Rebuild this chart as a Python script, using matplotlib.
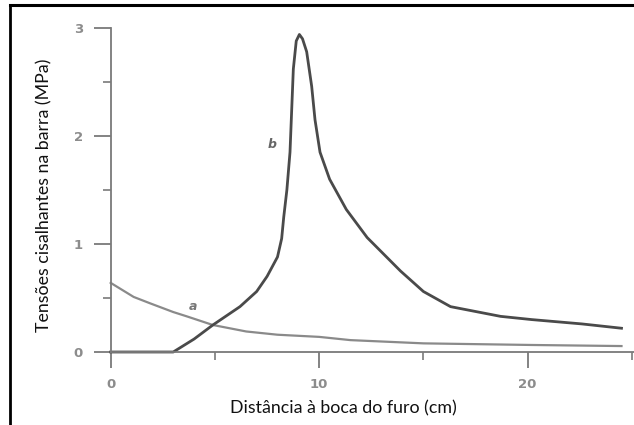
import matplotlib
matplotlib.use("Agg")
import matplotlib.pyplot as plt
from matplotlib.lines import Line2D
from matplotlib.ticker import MultipleLocator

# curve a (decreasing from the hole mouth)
dist_a = [0, 1.1, 1.9, 3.0, 3.65, 4.9, 6.5, 8.0, 10.0, 11.5, 15.0, 20.2, 24.5]
tens_a = [0.64, 0.51, 0.45, 0.37, 0.33, 0.25, 0.19, 0.16, 0.14, 0.11, 0.08, 0.065, 0.055]

# curve b (peak near 9 cm)
dist_b = [0, 3.0, 4.0, 4.9, 6.2, 7.0, 7.5, 8.0, 8.2, 8.3, 8.45, 8.6, 8.76, 8.9, 9.05,
          9.2, 9.4, 9.64, 9.8, 10.04, 10.5, 11.3, 12.3, 13.9, 15.0, 16.3, 18.7, 20.2, 22.6, 24.5]
tens_b = [0, 0, 0.12, 0.25, 0.42, 0.56, 0.70, 0.88, 1.05, 1.25, 1.5, 1.85, 2.62, 2.88, 2.94,
          2.9, 2.78, 2.46, 2.15, 1.85, 1.6, 1.32, 1.06, 0.75, 0.56, 0.42, 0.33, 0.30, 0.26, 0.22]

W, H = 634, 425
fig = plt.figure(figsize=(W / 100, H / 100), dpi=100)

x0_px, y0_px = 110.7, 352      # pixel of data origin
y3_px = 28                     # pixel of y = 3
x_right = 25.1
ax = fig.add_axes([x0_px / W, (H - y0_px) / H, (W - x0_px) / W, (y0_px - y3_px) / H])
ax.set_xlim(0, x_right)
ax.set_ylim(0, 3)

axis_col = "#7a7a7a"
ax.plot(dist_a, tens_a, color="#8a8a8a", lw=1.6, clip_on=False, zorder=3)
ax.plot(dist_b, tens_b, color="#4a4a4a", lw=2.0, clip_on=False, zorder=4)

ax.text(3.95, 0.42, "a", style="italic", color="#777777", fontsize=9,
        ha="center", va="center", fontweight="bold")
ax.text(7.74, 1.92, "b", style="italic", color="#666666", fontsize=9,
        ha="center", va="center", fontweight="bold")

for s in ["top", "right"]:
    ax.spines[s].set_visible(False)
for s in ["left", "bottom"]:
    ax.spines[s].set_color(axis_col)
    ax.spines[s].set_linewidth(1.3)
    ax.spines[s].set_zorder(5)

ax.xaxis.set_major_locator(MultipleLocator(10))
ax.xaxis.set_minor_locator(MultipleLocator(5))
ax.yaxis.set_major_locator(MultipleLocator(1))
ax.yaxis.set_minor_locator(MultipleLocator(0.5))

ax.tick_params(axis="x", which="major", direction="out", length=11.5, width=1.3,
               color=axis_col, pad=7, labelsize=9.5, labelcolor="#8c8c8c")
ax.tick_params(axis="x", which="minor", direction="out", length=5.5, width=1.2,
               color=axis_col)
ax.tick_params(axis="y", which="major", direction="out", length=12, width=1.3,
               color=axis_col, pad=8, labelsize=9.5, labelcolor="#8c8c8c")
ax.tick_params(axis="y", which="minor", direction="out", length=6, width=1.2,
               color=axis_col)
for lab in ax.get_xticklabels() + ax.get_yticklabels():
    lab.set_fontweight("bold")

fig.text(343 / W, 1 - 408 / H, "Distância à boca do furo (cm)", family="Lato",
         fontsize=12.8, ha="center", va="center", color="#111111")
fig.text(44 / W, 1 - 195 / H, "Tensões cisalhantes na barra (MPa)", family="Lato",
         fontsize=12.8, ha="center", va="center", rotation=90, color="#111111")

# outer frame (top and left only)
fig.add_artist(Line2D([10 / W, 1], [1 - 5 / H, 1 - 5 / H], color="black", lw=2.2,
                      transform=fig.transFigure))
fig.add_artist(Line2D([10 / W, 10 / W], [1 - 5 / H, 0], color="black", lw=2.0,
                      transform=fig.transFigure))

fig.savefig("out.png", dpi=100)
